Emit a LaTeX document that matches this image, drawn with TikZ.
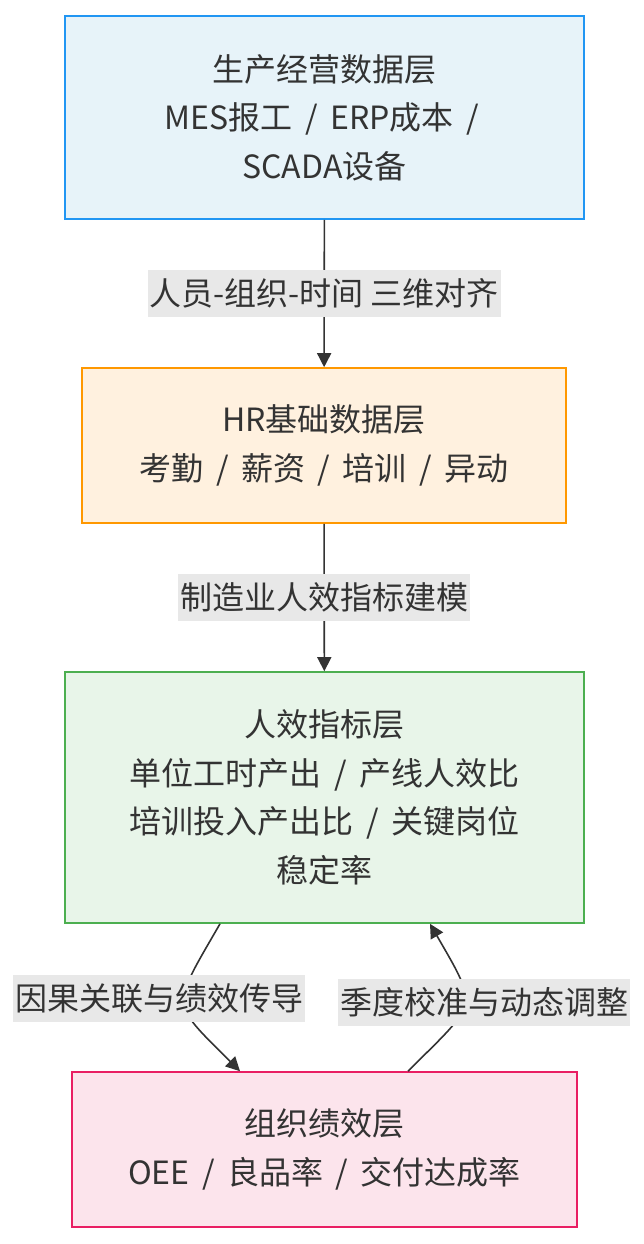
\documentclass[tikz,border=0pt]{standalone}
\usepackage{fontspec}
\setmainfont{Noto Sans CJK SC}
\usepackage{xcolor}
\usetikzlibrary{arrows.meta,positioning}
\definecolor{txt}{HTML}{333333}
\definecolor{linecol}{HTML}{333333}
\definecolor{lblfill}{HTML}{E8E8E8}
\definecolor{blueline}{HTML}{2196F3}
\definecolor{bluefill}{HTML}{E7F3F9}
\definecolor{orangeline}{HTML}{FF9800}
\definecolor{orangefill}{HTML}{FFF1DF}
\definecolor{greenline}{HTML}{4CAF50}
\definecolor{greenfill}{HTML}{E8F5E9}
\definecolor{pinkline}{HTML}{E91E63}
\definecolor{pinkfill}{HTML}{FCE4EC}
\newcommand{\slsep}{\,/\,}
\tikzset{
  layer/.style     = {draw, line width=1.6pt, rectangle, align=center, text=txt},
  edgelabel/.style = {fill=lblfill, inner xsep=2pt, inner ysep=0pt,
                      minimum height=47pt, text=txt},
  sig/.style       = {-{Triangle[length=14pt,width=14pt]}, line width=1.6pt, draw=linecol},
}
\begin{document}
\begin{tikzpicture}[x=1pt,y=-1pt,font=\fontsize{32}{48.5}\selectfont]
\useasboundingbox (0,0) rectangle (643,1244);
\node[layer,draw=blueline,fill=bluefill,minimum width=519pt,minimum height=203pt] (prod) at (324.5,117.5) {生产经营数据层\\MES报工 \slsep{} ERP成本 \slsep{}\\SCADA设备};
\node[layer,draw=orangeline,fill=orangefill,minimum width=484pt,minimum height=155pt] (hr) at (324,445.5) {HR基础数据层\\考勤 \slsep{} 薪资 \slsep{} 培训 \slsep{} 异动};
\node[layer,draw=greenline,fill=greenfill,minimum width=519pt,minimum height=251pt] (eff) at (324.5,797.5) {人效指标层\\单位工时产出 \slsep{} 产线人效比\\培训投入产出比 \slsep{} 关键岗位\\稳定率};
\node[layer,draw=pinkline,fill=pinkfill,minimum width=505pt,minimum height=155pt] (org) at (324.5,1149.5) {组织绩效层\\OEE \slsep{} 良品率 \slsep{} 交付达成率};
\draw[sig] (prod) -- node[edgelabel] (lab1) {人员-组织-时间 三维对齐} (hr);
\draw[sig] (hr) -- node[edgelabel] (lab2) {制造业人效指标建模} (eff);
\draw[sig] ([xshift=-104.5pt]eff.south) to[out=-120,in=135,looseness=1.7] ([xshift=-84.5pt]org.north);
\draw[sig] ([xshift=83.5pt]org.north) to[out=45,in=-60,looseness=1.7] ([xshift=105.5pt]eff.south);
\node[edgelabel] (lab3) at (159,998) {因果关联与绩效传导};
\node[edgelabel] (lab4) at (484,1002) {季度校准与动态调整};
\end{tikzpicture}
\end{document}
